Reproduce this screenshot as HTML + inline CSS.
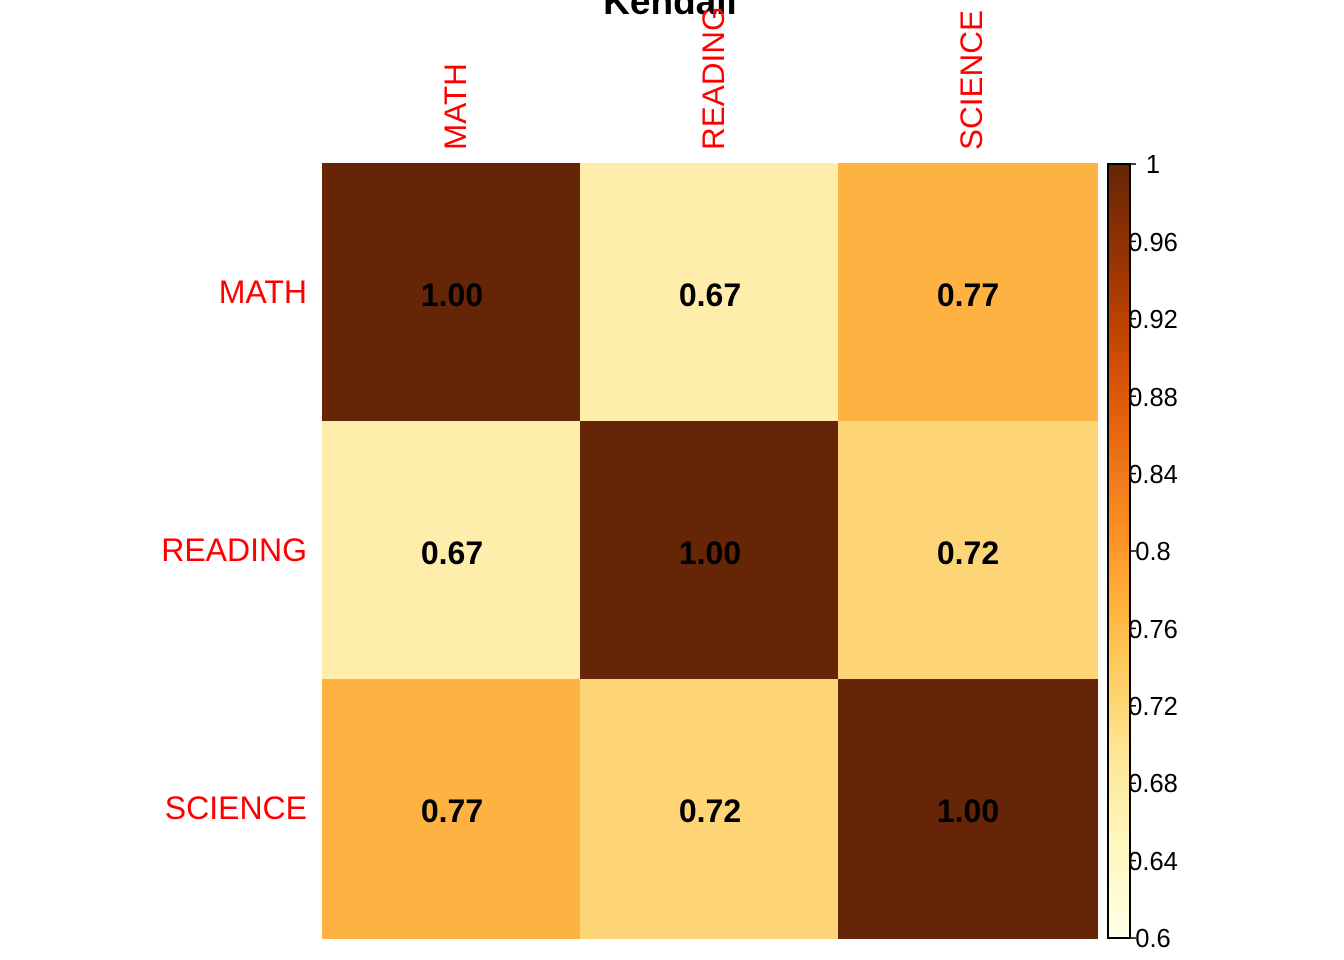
<!DOCTYPE html>
<html><head><meta charset="utf-8"><style>
body{margin:0;background:#fff;}
svg{display:block;font-family:"Liberation Sans",Arial,sans-serif;}
</style></head><body>
<svg width="1344" height="960" viewBox="0 0 1344 960">
<defs>
<linearGradient id="g" x1="0" y1="1" x2="0" y2="0">
<stop offset="0" stop-color="#ffffe5"/>
<stop offset="0.125" stop-color="#fff7bc"/>
<stop offset="0.25" stop-color="#fee391"/>
<stop offset="0.375" stop-color="#fec44f"/>
<stop offset="0.5" stop-color="#fe9929"/>
<stop offset="0.625" stop-color="#ec7014"/>
<stop offset="0.75" stop-color="#cc4c02"/>
<stop offset="0.875" stop-color="#993404"/>
<stop offset="1" stop-color="#662506"/>
</linearGradient>
</defs>
<text x="670" y="14" font-size="37" font-weight="bold" text-anchor="middle">Kendall</text>
<rect x="322" y="163" width="259" height="259" fill="#662506"/>
<rect x="580" y="163" width="259" height="259" fill="#ffeeab"/>
<rect x="838" y="163" width="260" height="259" fill="#fdb242"/>
<rect x="322" y="421" width="259" height="259" fill="#ffeeab"/>
<rect x="580" y="421" width="259" height="259" fill="#662506"/>
<rect x="838" y="421" width="260" height="259" fill="#fed576"/>
<rect x="322" y="679" width="259" height="260" fill="#fdb242"/>
<rect x="580" y="679" width="259" height="260" fill="#fed576"/>
<rect x="838" y="679" width="260" height="260" fill="#662506"/>
<g font-size="32" font-weight="bold" text-anchor="middle" fill="#000">
<text x="452" y="306">1.00</text><text x="710" y="306">0.67</text><text x="968" y="306">0.77</text>
<text x="452" y="564">0.67</text><text x="710" y="564">1.00</text><text x="968" y="564">0.72</text>
<text x="452" y="822">0.77</text><text x="710" y="822">0.72</text><text x="968" y="822">1.00</text>
</g>
<g font-size="32" fill="#ff0000" text-anchor="end">
<text x="307" y="303">MATH</text>
<text x="307" y="561">READING</text>
<text x="307" y="819">SCIENCE</text>
</g>
<g font-size="31.5" fill="#ff0000" text-anchor="start">
<text transform="translate(466,150) rotate(-90)">MATH</text>
<text transform="translate(724,150) rotate(-90)">READING</text>
<text transform="translate(982,150) rotate(-90)">SCIENCE</text>
</g>
<rect x="1108" y="164" width="22" height="774" fill="url(#g)" stroke="#000" stroke-width="2"/>
<g stroke="#000" stroke-width="1.5">
<line x1="1130" y1="164" x2="1136" y2="164"/>
<line x1="1130" y1="241.4" x2="1136" y2="241.4"/>
<line x1="1130" y1="318.8" x2="1136" y2="318.8"/>
<line x1="1130" y1="396.2" x2="1136" y2="396.2"/>
<line x1="1130" y1="473.6" x2="1136" y2="473.6"/>
<line x1="1130" y1="551" x2="1136" y2="551"/>
<line x1="1130" y1="628.4" x2="1136" y2="628.4"/>
<line x1="1130" y1="705.8" x2="1136" y2="705.8"/>
<line x1="1130" y1="783.2" x2="1136" y2="783.2"/>
<line x1="1130" y1="860.6" x2="1136" y2="860.6"/>
<line x1="1130" y1="938" x2="1136" y2="938"/>
</g>
<g font-size="25.5" fill="#000" text-anchor="middle">
<text x="1153" y="173">1</text>
<text x="1153" y="251">0.96</text>
<text x="1153" y="328">0.92</text>
<text x="1153" y="406">0.88</text>
<text x="1153" y="483">0.84</text>
<text x="1153" y="560">0.8</text>
<text x="1153" y="638">0.76</text>
<text x="1153" y="715">0.72</text>
<text x="1153" y="792">0.68</text>
<text x="1153" y="870">0.64</text>
<text x="1153" y="947">0.6</text>
</g>
</svg>
</body></html>
